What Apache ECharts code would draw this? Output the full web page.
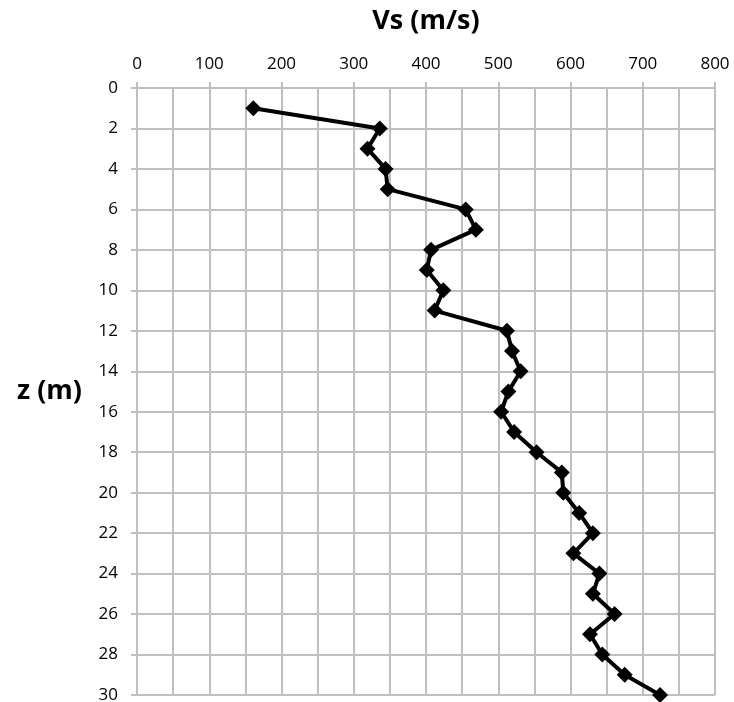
<!DOCTYPE html>
<html>
<head>
<meta charset="utf-8">
<script src="https://cdn.jsdelivr.net/npm/echarts@6/dist/echarts.min.js"></script>
<style>
  html, body { margin: 0; padding: 0; background: #fff; }
  #chart { width: 734px; height: 702px; }
</style>
</head>
<body>
<div id="chart"></div>
<script>
// depth (m) and shear wave velocity (m/s)
const depths = [1, 2, 3, 4, 5, 6, 7, 8, 9, 10, 11, 12, 13, 14, 15, 16, 17, 18, 19, 20, 21, 22, 23, 24, 25, 26, 27, 28, 29, 30];
const vs = [161, 336, 319, 344, 347, 455, 469, 407, 401, 424, 412, 512, 519, 531, 514, 504, 522, 553, 588, 590, 612, 631, 604, 640, 631, 661, 627, 644, 675, 724];

const xTitle = 'Vs (m/s)';
const yTitle = 'z (m)';

const gridColor = '#bfbfbf';
const font = '"Open Sans", sans-serif';

const myChart = echarts.init(document.getElementById('chart'));

const option = {
  animation: false,
  grid: { left: 137, right: 19, top: 88, bottom: 7, containLabel: false, outerBoundsMode: 'none' },
  xAxis: {
    type: 'value',
    position: 'top',
    min: 0,
    max: 800,
    interval: 100,
    name: xTitle,
    nameLocation: 'middle',
    nameGap: 53,
    nameTextStyle: { fontFamily: font, fontSize: 27, fontWeight: 'bold', color: '#000' },
    axisLine: { show: true, lineStyle: { color: gridColor, width: 2 } },
    axisTick: { show: true, length: 6, lineStyle: { color: gridColor, width: 2 } },
    axisLabel: { fontFamily: font, fontSize: 17, color: '#000', margin: 15 },
    splitLine: { show: true, lineStyle: { color: gridColor, width: 2 } },
    minorTick: { show: false, splitNumber: 2 },
    minorSplitLine: { show: true, lineStyle: { color: gridColor, width: 2 } }
  },
  yAxis: {
    type: 'value',
    inverse: true,
    min: 0,
    max: 30,
    interval: 2,
    name: yTitle,
    nameLocation: 'middle',
    nameRotate: 0,
    nameGap: 55,
    nameTextStyle: { fontFamily: font, fontSize: 27, fontWeight: 'bold', color: '#000', padding: [14, 0, 0, 0] },
    axisLine: { show: true, lineStyle: { color: gridColor, width: 2 } },
    axisTick: { show: true, length: 6, lineStyle: { color: gridColor, width: 2 } },
    axisLabel: { fontFamily: font, fontSize: 17, color: '#000', margin: 19 },
    splitLine: { show: true, lineStyle: { color: gridColor, width: 2 } }
  },
  series: [
    {
      type: 'line',
      data: depths.map((d, i) => [vs[i], d]),
      symbol: 'diamond',
      symbolSize: 16,
      itemStyle: { color: '#000' },
      lineStyle: { color: '#000', width: 4 }
    }
  ]
};

myChart.setOption(option);
</script>
</body>
</html>
